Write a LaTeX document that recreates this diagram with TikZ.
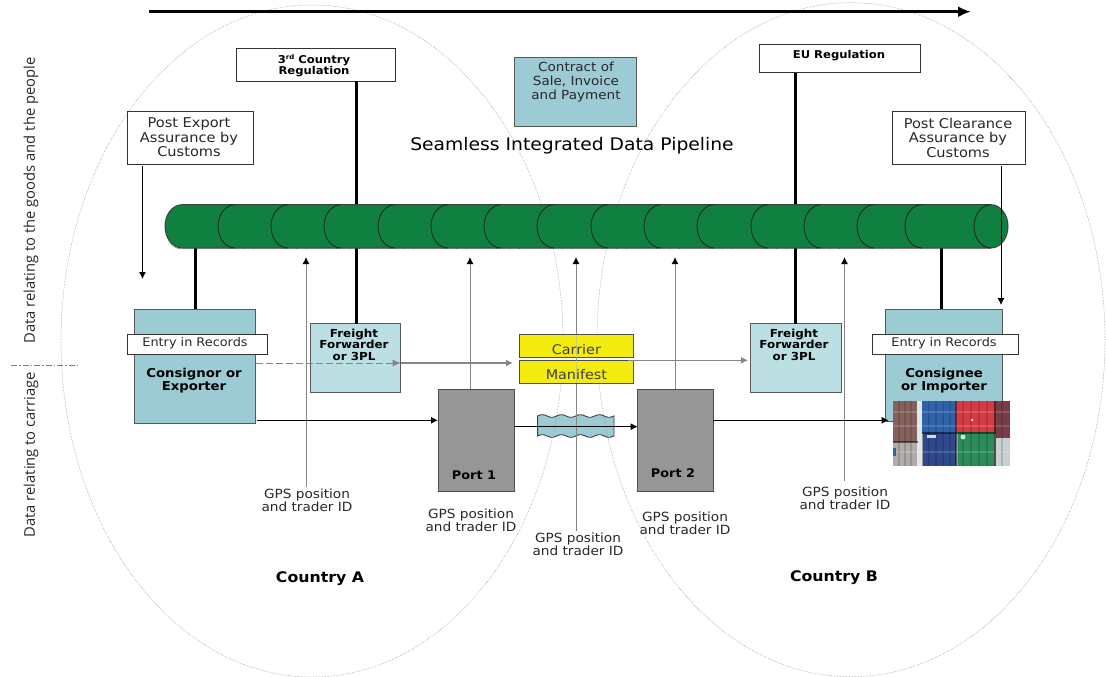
\documentclass[tikz,border=0pt]{standalone}
\usepackage{fontspec}
\setmainfont[FakeStretch=1.08]{DejaVu Sans}
\newfontfamily\sidefont{Open Sans}
\usetikzlibrary{arrows.meta,calc}
\definecolor{pipegreen}{RGB}{16,128,64}
\definecolor{tealbox}{RGB}{156,203,211}
\definecolor{lightteal}{RGB}{188,223,227}
\definecolor{portgrey}{RGB}{150,150,150}
\definecolor{manifestyellow}{RGB}{244,236,16}
\definecolor{txt}{RGB}{40,40,40}
\tikzset{
  x=1pt,y=-1pt,
  boxbase/.style={inner sep=0pt,outer sep=0pt,line width=1pt},
  whitebox/.style={boxbase,draw=black!80,fill=white},
  tealnode/.style={boxbase,draw=black!65,fill=tealbox},
  lightnode/.style={boxbase,draw=black!65,fill=lightteal},
  portnode/.style={boxbase,draw=black!70,fill=portgrey},
  yellownode/.style={boxbase,draw=black!70,fill=manifestyellow},
  ghost/.style={boxbase,draw=none},
  normaltext/.style={inner sep=0pt,text=txt,align=center,font=\fontsize{13.5}{14.5}\selectfont},
  entrytext/.style={inner sep=0pt,text=txt,align=center,font=\fontsize{11.9}{14}\selectfont},
  contracttext/.style={inner sep=0pt,text=txt,align=center,font=\fontsize{12.55}{13.6}\selectfont},
  gpstext/.style={inner sep=0pt,text=txt,align=center,font=\fontsize{12.65}{13}\selectfont},
  cargotext/.style={inner sep=0pt,text=black!75,font=\fontsize{13.3}{14}\selectfont},
  boldtext/.style={inner sep=0pt,text=black,align=center,font=\bfseries\fontsize{11.05}{11.8}\selectfont},
  tradertext/.style={inner sep=0pt,text=black,align=center,font=\bfseries\fontsize{12.25}{12.6}\selectfont},
  regtext/.style={inner sep=0pt,text=black,align=center,font=\bfseries\fontsize{10.75}{11}\selectfont},
  porttext/.style={inner sep=0pt,text=black,font=\bfseries\fontsize{11.9}{12}\selectfont},
  countrytext/.style={inner sep=0pt,text=black,font=\bfseries\fontsize{14.6}{15}\selectfont},
  sidetext/.style={inner sep=0pt,text=txt,rotate=90,font=\sidefont\fontsize{14.75}{16}\selectfont},
  country/.style={draw=black!45,line width=.5pt,densely dotted},
  tap/.style={draw=black,line width=3pt},
  thin arrow/.style={draw=black,line width=.9pt,-{Latex[length=7pt,width=7pt]}},
  grey arrow/.style={draw=black!48,line width=1pt,-{Latex[length=7pt,width=7pt,black]}},
  flow arrow/.style={draw=black!48,line width=1.3pt,-{Latex[length=7pt,width=7pt]}},
}
\definecolor{cBrown}{RGB}{134,96,92}
\definecolor{cGrey}{RGB}{176,172,172}
\definecolor{cGap}{RGB}{225,232,235}
\definecolor{cBlue}{RGB}{48,98,170}
\definecolor{cNavy}{RGB}{46,74,140}
\definecolor{cRed}{RGB}{212,58,66}
\definecolor{cGreen}{RGB}{42,140,88}
\definecolor{cMaroon}{RGB}{120,60,70}
\definecolor{cPale}{RGB}{200,208,208}
\newcommand{\bx}[7]{\node[#6,minimum width={(#4-#2)*1pt},minimum height={(#5-#3)*1pt}] (#1) at ({(#2+#4)/2},{(#3+#5)/2}) {#7};}
\begin{document}
\begin{tikzpicture}
\useasboundingbox (0,0) rectangle (1106,677);
\fill[white] (0,0) rectangle (1106,677);

% helper levels and columns
\coordinate (headY) at (0,257);
\coordinate (tapA) at (195,0);
\coordinate (tapB) at (356,0);
\coordinate (tapC) at (795.5,0);
\coordinate (tapD) at (941,0);
\coordinate (gps1) at (306,0);
\coordinate (gps2) at (470,0);
\coordinate (gps3) at (576,0);
\coordinate (gps4) at (675,0);
\coordinate (gps5) at (844.5,0);
\coordinate (roadY) at (0,420.3);
\coordinate (seaY) at (0,426.7);
\coordinate (flowA) at (0,363);
\coordinate (flowB) at (0,360.3);

% sea
\draw[fill=tealbox,draw=black!75,line width=.9pt]
  plot[domain=537.6:614,samples=70] (\x,{416-1.3*sin((\x-537.6)*18.9)})
  -- plot[domain=614:537.6,samples=70] (\x,{436-1.3*sin((\x-537.6)*18.9)}) -- cycle;
\draw[draw=black!80,line width=.9pt] (576,416) -- (576,436);

% countries
\draw[country] (312,341) ellipse [x radius=251pt,y radius=336pt];
\draw[country] (851,339.7) ellipse [x radius=254pt,y radius=337pt];

% time arrow
\coordinate (timeA) at (149,11.7);
\coordinate (timeB) at (971,11.7);
\draw[line width=3pt,-{Latex[length=13pt,width=11pt]}] (timeA) -- (timeB);

% boxes
\bx{pipe}{165}{204.7}{1008}{248}{ghost}{}
\bx{reg3}{236.5}{48.7}{395}{81.3}{whitebox}{}
\node[regtext] (reg3t) at (314,65.5) {3\raisebox{.35em}{\fontsize{6.5}{7}\selectfont rd} Country\\Regulation};
\bx{regEU}{759}{45}{920}{72.7}{whitebox}{}
\node[regtext] (regEUt) at (839,55.5) {EU Regulation};
\bx{contract}{514}{57.3}{636}{126}{tealnode}{}
\node[contracttext] (contractt) at (576,82) {Contract of\\Sale, Invoice\\and Payment};
\bx{postex}{127}{111}{253.5}{164}{whitebox}{}
\node[normaltext] (postext) at (189,137.5) {Post Export\\Assurance by\\Customs};
\bx{postcl}{892.7}{111}{1025}{164}{whitebox}{}
\node[normaltext] (postclt) at (958,137.5) {Post Clearance\\Assurance by\\Customs};
\node[inner sep=0pt,text=black,font=\fontsize{17.35}{19}\selectfont] (title) at (572,146) {Seamless Integrated Data Pipeline};

\bx{consignor}{134}{309}{255.7}{423}{tealnode}{}
\bx{consignee}{885.6}{309}{1002}{421}{tealnode}{}
\bx{ffa}{310.7}{323.7}{400.7}{392}{lightnode}{}
\bx{ffb}{750}{323.7}{841}{392}{lightnode}{}
\bx{port1}{438}{389}{514}{491.7}{portnode}{}
\bx{port2}{637.7}{389}{713}{491.7}{portnode}{}

% vertical connectors
\draw[tap] (tapB |- reg3.south) -- (tapB |- pipe.north);
\draw[tap] (tapC |- regEU.south) -- (tapC |- pipe.north);
\draw[tap] (tapA |- pipe.south) -- (tapA |- consignor.north);
\draw[tap] (tapB |- pipe.south) -- (tapB |- ffa.north);
\draw[tap] (tapC |- pipe.south) -- (tapC |- ffb.north);
\draw[tap] (tapD |- pipe.south) -- (tapD |- consignee.north);

% pipeline
\draw[fill=pipegreen,draw=black!75,line width=1pt]
  (182,204.7) -- (991,204.7) .. controls (1000.4,204.7) and (1008,214.4) .. (1008,226.35)
  .. controls (1008,238.3) and (1000.4,248) .. (991,248) -- (182,248)
  .. controls (172.6,248) and (165,238.3) .. (165,226.35)
  .. controls (165,214.4) and (172.6,204.7) .. (182,204.7) -- cycle;
\draw[draw=black!45,line width=.7pt] (168,240) .. controls (172,246) and (176,248.9) .. (182,248.9);
\foreach \a in {218,271,324,378,431,484,537,591,644,697,751,804,857}{
  \draw[draw=black!85,line width=.9pt] (\a+17,204.7) .. controls (\a+7.6,204.7) and (\a,214.4) .. (\a,226.35)
    .. controls (\a,238.3) and (\a+7.6,248) .. (\a+17,248);
  \foreach \t in {12,25,35}{\draw[draw=black!70,line width=.9pt] (\a+\t,248) -- (\a+\t,249.4);}
}
\draw[draw=black!85,line width=.9pt] (922,204.7) .. controls (912,204.7) and (905,214.4) .. (905,226.35)
    .. controls (905,238.3) and (912,248) .. (922,248);
\draw[draw=black!85,line width=.9pt] (991,204.7) .. controls (981.6,204.7) and (974,214.4) .. (974,226.35)
    .. controls (974,238.3) and (981.6,248) .. (991,248);

% customs arrows
\coordinate (custA) at (142.5,0);
\coordinate (custB) at (1001,0);
\coordinate (custAend) at (0,279);
\coordinate (custBend) at (0,305);
\draw[thin arrow] ($(custA |- postex.south)+(0,2)$) -- (custA |- custAend);
\draw[thin arrow] ($(custB |- postcl.south)+(0,2)$) -- (custB |- custBend);

% GPS labels
\node[gpstext] (g1) at (307,500) {GPS position\\and trader ID};
\node[gpstext] (g2) at (471,520) {GPS position\\and trader ID};
\node[gpstext] (g3) at (578,544) {GPS position\\and trader ID};
\node[gpstext] (g4) at (685,523) {GPS position\\and trader ID};
\node[gpstext] (g5) at (845,498) {GPS position\\and trader ID};
\draw[grey arrow] (gps1 |- g1.north) ++(0,-1) -- (gps1 |- headY);
\draw[grey arrow] (gps2 |- port1.north) -- (gps2 |- headY);
\draw[grey arrow] (gps3 |- g3.north) ++(0,-1) -- (gps3 |- headY);
\draw[grey arrow] (gps4 |- port2.north) -- (gps4 |- headY);
\draw[grey arrow] (gps5 |- g5.north) ++(0,-5) -- (gps5 |- headY);

% carrier and manifest
\bx{carrier}{519}{334.7}{633.8}{357.3}{yellownode}{}
\bx{manifest}{519}{360.7}{633.8}{383}{yellownode}{}
\node[cargotext,yshift=-4pt] (carriert) at (carrier) {Carrier};
\node[cargotext,yshift=-3pt] (manifestt) at (manifest) {Manifest};
\draw[draw=black!30,line width=.8pt,opacity=.5] (gps3 |- carrier.north) -- (gps3 |- manifest.south);

% data flows
\draw[draw=black!48,line width=1pt,dash pattern=on 7pt off 3pt,-{Latex[length=8pt,width=7pt]}] (consignor.east |- flowA) -- (ffa.east |- flowA);
\draw[flow arrow] (ffa.east |- flowA) -- ($(carrier.west |- flowA)+(-6,0)$);
\draw[flow arrow] ($(manifest.east |- flowB)+(-6,0)$) -- ($(ffb.west |- flowB)+(-2,0)$);

% transport arrows
\draw[thin arrow] ($(consignor.east |- roadY)+(1,0)$) -- (port1.west |- roadY);
\draw[thin arrow] (port1.east |- seaY) -- (port2.west |- seaY);
\draw[thin arrow] (port2.east |- roadY) -- ($(consignee.west |- roadY)+(3,0)$) ;

% containers
\begin{scope}
  \clip (893,401) rectangle (1010,466);
  \fill[black!40] (893,401) rectangle (1010,466);
  \fill[cBrown] (893,401) rectangle (917,442);
  \fill[cGrey] (893,442) rectangle (918,466);
  \fill[cGap] (917,401) rectangle (922,466);
  \fill[cBlue] (922,401) rectangle (956,433);
  \fill[cNavy] (923,433) rectangle (956,466);
  \fill[cRed] (956,401) rectangle (996,432);
  \fill[cGreen] (958,432) rectangle (994,466);
  \fill[cMaroon] (996,401) rectangle (1010,438);
  \fill[cPale] (996,438) rectangle (1010,466);
  \foreach \px in {899,905,911,929,936,943,950,963,971,979,987,1002}{\draw[black,opacity=.14,line width=1.2pt] (\px,401) -- (\px,466);}
  \foreach \py in {412,426,452}{\draw[white,opacity=.14,line width=1.2pt] (893,\py) -- (1010,\py);}
  \draw[black,opacity=.5,line width=1.4pt] (922,433) -- (996,433);
  \draw[black,opacity=.4,line width=1.4pt] (956,401) -- (956,466);
  \draw[black,opacity=.5,line width=1.2pt] (893,442) -- (918,442);
  \draw[black,opacity=.5,line width=1.2pt] (995,401) -- (995,466);
  \fill[white,opacity=.8] (927,435) rectangle (936,438);
  \fill[white,opacity=.8] (963,437) circle [radius=2.5pt];
  \fill[white,opacity=.8] (972,420) circle [radius=1.5pt];
  \fill[cBlue] (893,448) rectangle (896,456);
\end{scope}

% records
\bx{recA}{127}{334}{267}{354}{whitebox}{}
\node[entrytext] (recAt) at (195,343.5) {Entry in Records};
\bx{recB}{872.8}{334}{1018}{354}{whitebox}{}
\node[entrytext] (recBt) at (944,343.5) {Entry in Records};

% box texts
\node[tradertext] (consignort) at (194,380.5) {Consignor or\\Exporter};
\node[tradertext] (consigneet) at (944,380.5) {Consignee\\or Importer};
\node[boldtext] (ffat) at (354,344.7) {Freight\\Forwarder\\or 3PL};
\node[boldtext] (ffbt) at (794,344.7) {Freight\\Forwarder\\or 3PL};
\node[porttext] (port1t) at (474,475) {Port 1};
\node[porttext] (port2t) at (673,473) {Port 2};
\node[countrytext] (ca) at (320,579) {Country A};
\node[countrytext] (cb) at (834,578) {Country B};

% side labels
\node[sidetext] (s1) at (31,200.5) {Data relating to the goods and the people};
\node[sidetext] (s2) at (31,454.5) {Data relating to carriage};
\coordinate (splitL) at (11,365.7);
\coordinate (splitR) at (78,365.7);
\draw[draw=black!50,line width=.7pt,dash pattern=on 6pt off 2pt on 1.5pt off 2pt] (splitL) -- (splitR);
\end{tikzpicture}
\end{document}
